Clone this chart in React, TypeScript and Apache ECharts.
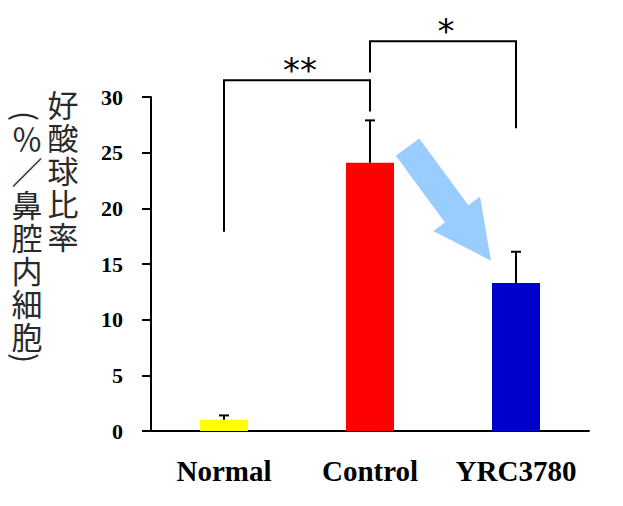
import React, { useEffect, useRef } from "react";
import * as echarts from "echarts";

const categories = ["Normal", "Control", "YRC3780"];
const means = [1.0, 24.1, 13.3];
const errorTops = [1.4, 27.9, 16.1];
const barColors = ["#FFFF00", "#FF0000", "#0000CC"];

const yMin = 0;
const yMax = 30;
const yInterval = 5;

// significance brackets
const bracketFrom = [0, 1];
const bracketTo = [1, 2];
const bracketTop = [31.5, 35.0];
const bracketLeftEnd = [17.9, 32.2];
const bracketRightEnd = [28.7, 27.2];
const bracketLabels = ["**", "*"];

// decrease arrow (between Control and YRC3780), fraction between categories + value
const arrowTailFrac = 0.257;
const arrowTailVal = 25.5;
const arrowTipFrac = 0.829;
const arrowTipVal = 15.3;

const yNameCol1 = ["好", "酸", "球", "比", "率"];
const yNameCol2 = ["％", "／", "鼻", "腔", "内", "細", "胞"];

export default function App() {
  const ref = useRef<HTMLDivElement>(null);
  useEffect(() => {
    if (!ref.current) return;
    const chart = echarts.init(ref.current, null, { renderer: "svg" });

    const cjkFont = "'Noto Sans CJK JP', sans-serif";
    const step = 33;
    const nameStyle = {
      fontSize: 31,
      lineHeight: step,
      fontFamily: cjkFont,
      fill: "#2a2a2a",
      align: "center",
      verticalAlign: "middle",
    };
    const nameGraphics: any[] = [
      {
        type: "text",
        x: 63,
        y: 87 + (yNameCol1.length * step) / 2,
        style: { ...nameStyle, text: yNameCol1.join("\n") },
      },
      {
        type: "group",
        x: 27,
        y: 116,
        rotation: -Math.PI / 2,
        children: [
          { type: "text", x: 0, y: 0, style: { ...nameStyle, text: "(", fontSize: 30, lineHeight: 12 } },
        ],
      },
      {
        type: "text",
        x: 27,
        y: 121 + (yNameCol2.length * step) / 2,
        style: { ...nameStyle, text: yNameCol2.join("\n") },
      },
      {
        type: "group",
        x: 27,
        y: 358,
        rotation: -Math.PI / 2,
        children: [
          { type: "text", x: 0, y: 0, style: { ...nameStyle, text: ")", fontSize: 30, lineHeight: 12 } },
        ],
      },
    ];

    const option: any = {
      animation: false,
      grid: { left: 151, top: 97, width: 438, height: 334, containLabel: false },
      xAxis: {
        type: "category",
        data: categories,
        axisLine: { show: true, lineStyle: { color: "#000", width: 2 } },
        axisTick: { show: false },
        axisLabel: {
          interval: 0,
          color: "#000",
          fontFamily: "'Liberation Serif', 'Times New Roman', serif",
          fontWeight: "bold",
          fontSize: 29,
          margin: 25,
        },
      },
      yAxis: {
        type: "value",
        min: yMin,
        max: yMax,
        interval: yInterval,
        axisLine: { show: true, lineStyle: { color: "#000", width: 2 } },
        axisTick: { show: true, length: 9, lineStyle: { color: "#000", width: 2 } },
        splitLine: { show: false },
        axisLabel: {
          color: "#000",
          fontFamily: "'Liberation Serif', 'Times New Roman', serif",
          fontWeight: "bold",
          fontSize: 22,
          margin: 28,
        },
      },
      graphic: nameGraphics,
      series: [
        {
          type: "bar",
          barWidth: 48,
          data: means.map((v, i) => ({ value: v, itemStyle: { color: barColors[i] } })),
          z: 2,
        },
        {
          type: "custom",
          z: 3,
          clip: false,
          data: categories.map((_, i) => [i, means[i], errorTops[i]]),
          renderItem: (params: any, api: any) => {
            const x = api.value(0);
            const p0 = api.coord([x, api.value(1)]);
            const p1 = api.coord([x, api.value(2)]);
            const w = 5;
            return {
              type: "group",
              children: [
                {
                  type: "line",
                  shape: { x1: p0[0], y1: p0[1], x2: p1[0], y2: p1[1] },
                  style: { stroke: "#000", lineWidth: 2 },
                },
                {
                  type: "line",
                  shape: { x1: p1[0] - w, y1: p1[1], x2: p1[0] + w, y2: p1[1] },
                  style: { stroke: "#000", lineWidth: 2 },
                },
              ],
            };
          },
        },
        {
          type: "custom",
          z: 3,
          clip: false,
          data: bracketFrom.map((f, i) => [f, bracketTo[i], bracketTop[i], bracketLeftEnd[i], bracketRightEnd[i], i]),
          renderItem: (params: any, api: any) => {
            const a = api.value(0);
            const b = api.value(1);
            const top = api.value(2);
            const pl = api.coord([a, top]);
            const pr = api.coord([b, top]);
            const pla = api.coord([a, api.value(3)]);
            const pra = api.coord([b, api.value(4)]);
            const label = bracketLabels[api.value(5)];
            return {
              type: "group",
              children: [
                {
                  type: "polyline",
                  shape: { points: [[pla[0], pla[1]], [pl[0], pl[1]], [pr[0], pr[1]], [pra[0], pra[1]]] },
                  style: { stroke: "#000", lineWidth: 2, fill: "none" },
                },
                {
                  type: "text",
                  x: (pl[0] + pr[0]) / 2 + 3,
                  y: pl[1] + 7,
                  style: {
                    text: label,
                    fontSize: 34,
                    fontFamily: "'DejaVu Sans', sans-serif",
                    fill: "#000",
                    align: "center",
                    verticalAlign: "bottom",
                  },
                },
              ],
            };
          },
        },
        {
          type: "custom",
          z: 1,
          clip: false,
          data: [[arrowTailFrac, arrowTailVal, arrowTipFrac, arrowTipVal]],
          renderItem: (params: any, api: any) => {
            const c1t = api.coord([1, api.value(1)]);
            const c2t = api.coord([2, api.value(1)]);
            const c1h = api.coord([1, api.value(3)]);
            const c2h = api.coord([2, api.value(3)]);
            const tx = c1t[0] + (c2t[0] - c1t[0]) * api.value(0);
            const ty = c1t[1];
            const hx = c1h[0] + (c2h[0] - c1h[0]) * api.value(2);
            const hy = c1h[1];
            const dx = hx - tx;
            const dy = hy - ty;
            const len = Math.sqrt(dx * dx + dy * dy);
            const ux = dx / len;
            const uy = dy / len;
            const nx = -uy;
            const ny = ux;
            const sh = 14.5;
            const hh = 29;
            const hl = 58;
            const bx = hx - ux * hl;
            const by = hy - uy * hl;
            const pts = [
              [tx + nx * sh, ty + ny * sh],
              [bx + nx * sh, by + ny * sh],
              [bx + nx * hh, by + ny * hh],
              [hx, hy],
              [bx - nx * hh, by - ny * hh],
              [bx - nx * sh, by - ny * sh],
              [tx - nx * sh, ty - ny * sh],
            ];
            return {
              type: "polygon",
              shape: { points: pts },
              style: { fill: "#99CCFF", stroke: "none" },
            };
          },
        },
      ],
    };
    chart.setOption(option);
    return () => chart.dispose();
  }, []);
  return (
    <div
      ref={ref}
      style={{ position: "absolute", left: 0, top: 0, width: 623, height: 506 }}
    />
  );
}
